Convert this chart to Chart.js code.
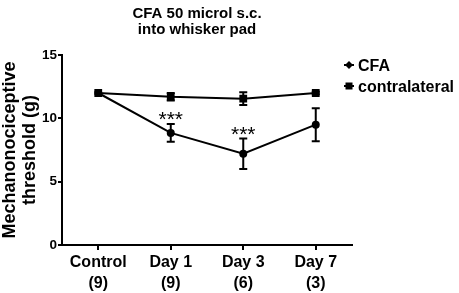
<!DOCTYPE html>
<html>
<head>
<meta charset="utf-8">
<script src="https://cdn.jsdelivr.net/npm/chart.js@4.4.1/dist/chart.umd.min.js"></script>
<style>
  html, body { margin: 0; padding: 0; background: #fff; }
  #wrap { width: 459px; height: 293px; position: relative; }
</style>
</head>
<body>
<div id="wrap"><canvas id="c" width="459" height="293"></canvas></div>
<script>
// ---- data ----
const categories = [['Control', '(9)'], ['Day 1', '(9)'], ['Day 3', '(6)'], ['Day 7', '(3)']];
const cfaMean = [12.0, 8.85, 7.2, 9.5];
const cfaErr = [0, 0.7, 1.2, 1.3];
const contraMean = [12.0, 11.7, 11.55, 12.0];
const contraErr = [0, 0.3, 0.5, 0.1];
const cfaStars = ['', '***', '***', ''];
const yTicks = [0, 5, 10, 15];
const titleLines = ['CFA 50 microl s.c.', 'into whisker pad'];
const yTitle = ['Mechanonociceptive', 'threshold (g)'];
const seriesNames = ['CFA', 'contralateral'];

const FONT = "'Liberation Sans', Arial, Helvetica, sans-serif";

const errorBars = {
  id: 'errorBars',
  afterDatasetsDraw(chart) {
    const ctx = chart.ctx;
    const x = chart.scales.x, y = chart.scales.y;
    const sets = [[cfaMean, cfaErr], [contraMean, contraErr]];
    ctx.save();
    ctx.strokeStyle = '#000';
    ctx.lineWidth = 2;
    sets.forEach(([m, e]) => {
      m.forEach((v, i) => {
        if (!e[i]) return;
        const px = x.getPixelForValue(i);
        const yt = y.getPixelForValue(v + e[i]);
        const yb = y.getPixelForValue(v - e[i]);
        ctx.beginPath();
        ctx.moveTo(px, yt); ctx.lineTo(px, yb);
        ctx.moveTo(px - 4, yt); ctx.lineTo(px + 4, yt);
        ctx.moveTo(px - 4, yb); ctx.lineTo(px + 4, yb);
        ctx.stroke();
      });
    });
    // significance stars
    ctx.fillStyle = '#000';
    ctx.font = '21px ' + FONT;
    ctx.textAlign = 'center';
    ctx.textBaseline = 'alphabetic';
    cfaStars.forEach((s, i) => {
      if (!s) return;
      const px = x.getPixelForValue(i);
      const yt = y.getPixelForValue(cfaMean[i] + cfaErr[i]);
      ctx.fillText(s, px, yt + 2);
    });
    ctx.restore();
  },
  afterDraw(chart) {
    const ctx = chart.ctx;
    ctx.save();
    ctx.fillStyle = '#000';
    // title
    ctx.font = 'bold 15px ' + FONT;
    ctx.textAlign = 'center';
    ctx.textBaseline = 'alphabetic';
    ctx.fillText(titleLines[0], 197, 18);
    ctx.fillText(titleLines[1], 197, 34);
    // legend
    ctx.strokeStyle = '#000';
    ctx.lineWidth = 2;
    const ly = [65, 86];
    ly.forEach((yy, k) => {
      ctx.beginPath();
      ctx.moveTo(344, yy); ctx.lineTo(354, yy);
      ctx.stroke();
      ctx.beginPath();
      if (k === 0) {
        ctx.moveTo(349, yy - 4); ctx.lineTo(353, yy); ctx.lineTo(349, yy + 4); ctx.lineTo(345, yy);
        ctx.closePath();
        ctx.fill();
      } else {
        ctx.fillRect(345.5, yy - 3.5, 7, 7);
      }
    });
    ctx.font = 'bold 16px ' + FONT;
    ctx.textAlign = 'left';
    ctx.fillText(seriesNames[0], 358, 71);
    ctx.fillText(seriesNames[1], 358, 92);
    ctx.restore();
  }
};

new Chart(document.getElementById('c'), {
  type: 'line',
  data: {
    labels: categories,
    datasets: [
      {
        label: seriesNames[0], data: cfaMean,
        borderColor: '#000', backgroundColor: '#000', borderWidth: 2,
        pointStyle: 'circle', pointRadius: 4, pointBorderWidth: 0,
        tension: 0
      },
      {
        label: seriesNames[1], data: contraMean,
        borderColor: '#000', backgroundColor: '#000', borderWidth: 2,
        pointStyle: 'rect', pointRadius: 5.5, pointBorderWidth: 0,
        tension: 0
      }
    ]
  },
  options: {
    responsive: false,
    animation: false,
    devicePixelRatio: 1,
    layout: { padding: { top: 55, right: 107, left: 0, bottom: 0 } },
    plugins: { legend: { display: false }, tooltip: { enabled: false }, title: { display: false } },
    scales: {
      x: {
        type: 'category',
        offset: true,
        grid: { display: true, drawOnChartArea: false, drawTicks: true, tickLength: 5, color: '#000', lineWidth: 2, offset: false },
        border: { display: true, color: '#000', width: 2 },
        ticks: {
          color: '#000', padding: 2, maxRotation: 0, autoSkip: false,
          font: { family: FONT, size: 16, weight: 'bold', lineHeight: 1.3 }
        },
        afterFit(s) { s.height = 48; }
      },
      y: {
        min: 0, max: 15,
        afterBuildTicks(s) { s.ticks = yTicks.map(v => ({ value: v })); },
        grid: { display: true, drawOnChartArea: false, drawTicks: true, tickLength: 4, color: '#000', lineWidth: 2 },
        border: { display: true, color: '#000', width: 2 },
        ticks: {
          color: '#000', padding: 1,
          font: { family: FONT, size: 13.5, weight: 'bold' }
        },
        title: {
          display: true, text: yTitle, color: '#000',
          padding: { top: 0, bottom: 0 },
          font: { family: FONT, size: 18, weight: 'bold', lineHeight: 1.12 }
        },
        afterFit(s) { s.width = 62; }
      }
    }
  },
  plugins: [errorBars]
});
</script>
</body>
</html>
